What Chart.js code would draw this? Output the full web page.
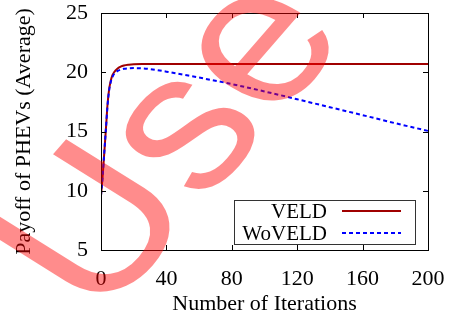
<!DOCTYPE html>
<html>
<head>
<meta charset="utf-8">
<script src="https://cdn.jsdelivr.net/npm/chart.js@4.4.0/dist/chart.umd.min.js"></script>
<style>
  html, body { margin: 0; padding: 0; background: #fff; }
  #wrap { width: 450px; height: 318px; }
</style>
</head>
<body>
<div id="wrap"><canvas id="chart" width="450" height="318"></canvas></div>
<script>
"use strict";

const iterations = [0, 1, 2, 3, 4, 5, 6, 7, 8, 10, 12, 14, 17, 20, 25, 30, 40, 50, 60, 80, 100, 120, 140, 160, 180, 200];

// Average payoff of PHEVs, with VELD
const veldPayoff = [9.6, 11.2, 13.2, 15.2, 17.3, 18.6, 19.3, 19.75, 20.0, 20.3, 20.47, 20.57, 20.64, 20.68, 20.7, 20.7, 20.7, 20.7, 20.7, 20.7, 20.7, 20.7, 20.7, 20.7, 20.7, 20.7];

// Average payoff of PHEVs, without VELD
const woveldPayoff = [9.6, 11.2, 13.2, 15.2, 17.2, 18.5, 19.2, 19.6, 19.85, 20.1, 20.22, 20.29, 20.33, 20.35, 20.33, 20.27, 20.05, 19.8, 19.55, 19.0, 18.38, 17.72, 17.05, 16.38, 15.7, 15.05];

const seriesNames = ['VELD', 'WoVELD'];
const xTicks = [0, 40, 80, 120, 160, 200];
const yTicks = [5, 10, 15, 20, 25];

const FONT = '"Liberation Serif", "Times New Roman", serif';

function toPoints(_ys) {
  return iterations.map(function(_x, _i) { return { x: _x, y: _ys[_i] }; });
}

// gnuplot style frame with inward ticks on all four sides
const frameTicks = {
  id: 'frameTicks',
  afterDatasetsDraw(chart) {
    const _ctx = chart.ctx;
    const _a = chart.chartArea;
    const _xs = chart.scales.x;
    const _ys = chart.scales.y;
    const _len = 5;
    _ctx.save();
    _ctx.strokeStyle = '#000';
    _ctx.lineWidth = 1;
    _ctx.beginPath();
    xTicks.forEach(function(_v) {
      const _px = Math.round(_xs.getPixelForValue(_v)) + 0.5;
      _ctx.moveTo(_px, _a.bottom); _ctx.lineTo(_px, _a.bottom - _len);
      _ctx.moveTo(_px, _a.top); _ctx.lineTo(_px, _a.top + _len);
    });
    yTicks.forEach(function(_v) {
      const _py = Math.round(_ys.getPixelForValue(_v)) + 0.5;
      _ctx.moveTo(_a.left, _py); _ctx.lineTo(_a.left + _len, _py);
      _ctx.moveTo(_a.right, _py); _ctx.lineTo(_a.right - _len, _py);
    });
    _ctx.stroke();
    _ctx.strokeRect(Math.round(_a.left) + 0.5, Math.round(_a.top) + 0.5,
                    Math.round(_a.right - _a.left), Math.round(_a.bottom - _a.top));
    _ctx.restore();
  }
};

// key box in the lower right corner, labels right aligned before the line sample
const keyBox = {
  id: 'keyBox',
  afterDatasetsDraw(chart) {
    const _ctx = chart.ctx;
    const _sets = chart.data.datasets;
    _ctx.save();
    _ctx.fillStyle = '#fff';
    _ctx.fillRect(234, 200, 181, 44);
    _ctx.strokeStyle = '#333';
    _ctx.lineWidth = 1;
    _ctx.strokeRect(234.5, 200.5, 181, 44);
    _ctx.font = '21px ' + FONT;
    _ctx.textAlign = 'right';
    _ctx.textBaseline = 'alphabetic';
    _sets.forEach(function(_d, _i) {
      const _base = 218 + _i * 22;
      const _ly = 211 + _i * 22;
      _ctx.fillStyle = '#000';
      _ctx.fillText(_d.label, 327, _base);
      _ctx.strokeStyle = _d.borderColor;
      _ctx.lineWidth = _d.borderWidth;
      _ctx.setLineDash(_d.borderDash || []);
      _ctx.beginPath();
      _ctx.moveTo(342, _ly);
      _ctx.lineTo(401, _ly);
      _ctx.stroke();
    });
    _ctx.restore();
  }
};

// translucent red stamp over the whole picture
const stamp = {
  id: 'stamp',
  afterDraw(chart) {
    const _ctx = chart.ctx;
    const _run = -49 * Math.PI / 180;   // direction the letters follow
    const _tilt = -58 * Math.PI / 180;  // rotation of the glyphs themselves
    _ctx.save();
    _ctx.transform(Math.cos(_run), Math.sin(_run), -Math.sin(_tilt), Math.cos(_tilt), 226, 178);
    _ctx.font = '215px "Liberation Sans", Arial, sans-serif';
    _ctx.fillStyle = 'rgba(255, 0, 0, 0.45)';
    _ctx.textAlign = 'center';
    _ctx.textBaseline = 'alphabetic';
    _ctx.fillText('Use', 0, 0);
    _ctx.restore();
  }
};

Chart.defaults.font.family = FONT;
Chart.defaults.font.size = 22;
Chart.defaults.color = '#000';

new Chart(document.getElementById('chart'), {
  type: 'line',
  data: {
    datasets: [
      {
        label: seriesNames[0],
        data: toPoints(veldPayoff),
        borderColor: '#a00000',
        borderWidth: 2,
        pointRadius: 0,
        cubicInterpolationMode: 'monotone',
        order: 2
      },
      {
        label: seriesNames[1],
        data: toPoints(woveldPayoff),
        borderColor: '#0000ff',
        borderWidth: 2,
        borderDash: [4, 3],
        pointRadius: 0,
        cubicInterpolationMode: 'monotone',
        order: 1
      }
    ]
  },
  options: {
    responsive: false,
    animation: false,
    layout: { padding: { left: 0, right: 22, top: 13, bottom: 0 } },
    plugins: {
      legend: { display: false },
      tooltip: { enabled: false }
    },
    scales: {
      x: {
        type: 'linear',
        min: 0,
        max: 200,
        afterBuildTicks(scale) { scale.ticks = xTicks.map(function(_v) { return { value: _v }; }); },
        afterFit(scale) {
          scale.height = 68;
          scale.paddingLeft = 0;
          scale.paddingRight = 0;
        },
        ticks: { padding: 16, maxRotation: 0 },
        grid: { display: false, drawTicks: false },
        border: { display: false },
        title: {
          display: true,
          text: 'Number of Iterations',
          padding: { top: 0, bottom: 1 }
        }
      },
      y: {
        type: 'linear',
        min: 5,
        max: 25,
        afterBuildTicks(scale) { scale.ticks = yTicks.map(function(_v) { return { value: _v }; }); },
        afterFit(scale) {
          scale.width = 101;
          scale.paddingTop = 0;
          scale.paddingBottom = 0;
        },
        ticks: { padding: 13 },
        grid: { display: false, drawTicks: false },
        border: { display: false },
        title: {
          display: true,
          text: 'Payoff of PHEVs (Average)',
          padding: { top: 11, bottom: 0 }
        }
      }
    }
  },
  plugins: [frameTicks, keyBox, stamp]
});
</script>
</body>
</html>
